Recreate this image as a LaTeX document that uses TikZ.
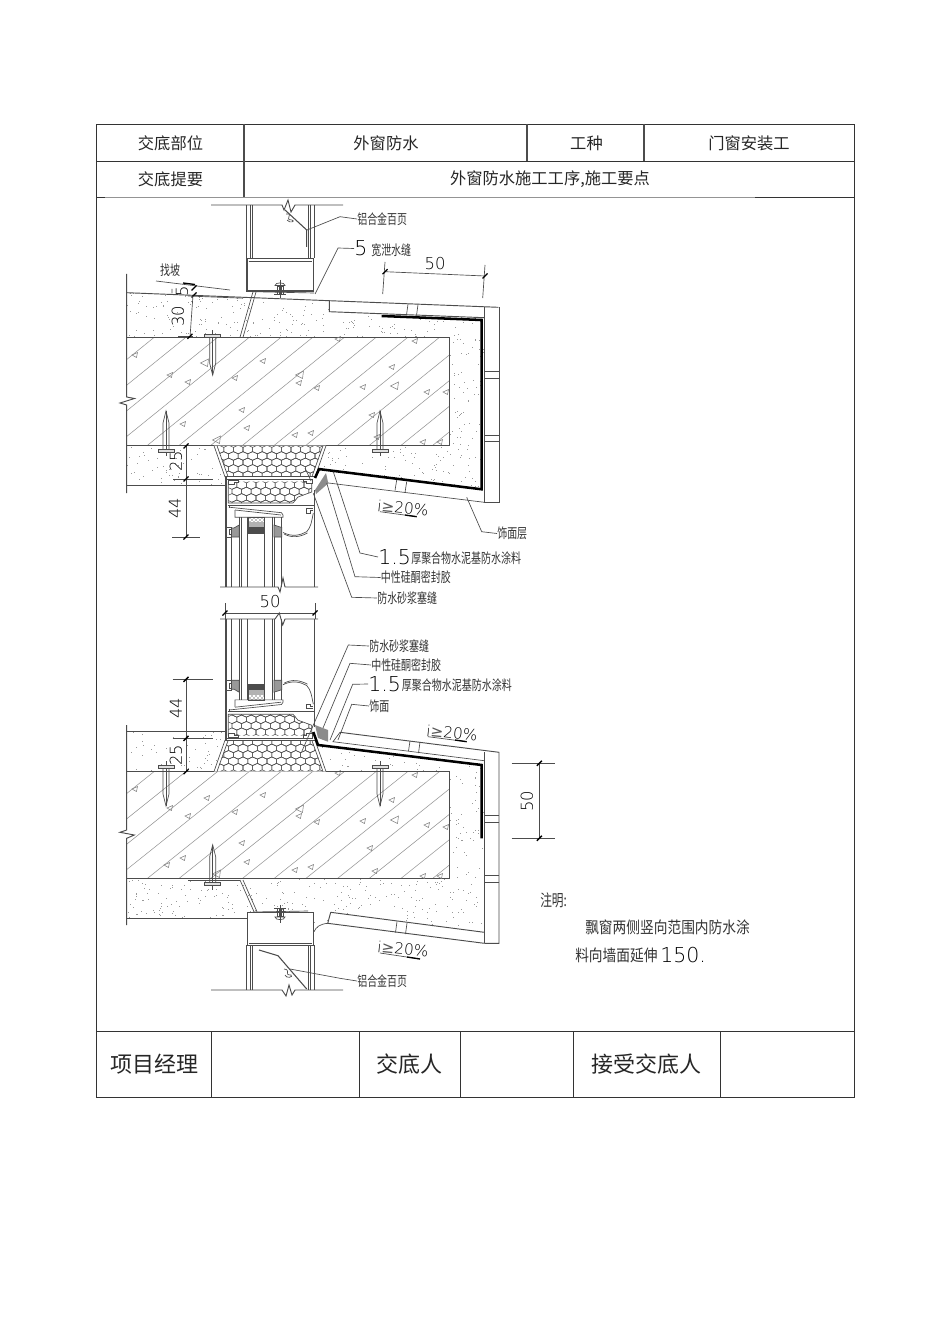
\documentclass[tikz,border=0pt]{standalone}
\usepackage{fontspec}
\usetikzlibrary{patterns}
\setmainfont{Liberation Sans}
\newfontfamily\tblf{Noto Sans CJK SC}
\newfontfamily\cadf[FakeStretch=0.72]{Noto Sans CJK SC}
\newfontfamily\notef[FakeStretch=0.85]{Noto Sans CJK SC}
\newfontfamily\numf[UprightFont={* ExtraLight}]{DejaVu Sans}
\newfontfamily\symf{DejaVu Sans}
\definecolor{ln}{gray}{0.3}
\definecolor{hl}{gray}{0.58}
\newcommand\fs[1]{\fontsize{#1}{#1}\selectfont}
\newcommand\slopetxt{i{\symf\color{black!65}≥}20\%}
\tikzset{
 ln/.style={draw=ln,line width=0.5pt},
 tl/.style={draw=ln,line width=0.7pt},
 tb/.style={draw=black!80,line width=0.7pt},
 thk/.style={draw=black,line width=1.9pt},
 lead/.style={draw=ln,line width=0.5pt},
 cell/.style={inner sep=0pt,font=\tblf\fs{12.2},text=black!85},
 bigcell/.style={inner sep=0pt,font=\tblf\fs{16.5},text=black!85},
 cad/.style={inner sep=0pt,anchor=west,font=\cadf\fs{10.4},text=black!80},
 notet/.style={inner sep=0pt,anchor=west,font=\notef\fs{12.1},text=black!80},
 dimt/.style={inner sep=0pt,font=\numf\fs{12.3},text=black},
 bigd/.style={inner sep=0pt,anchor=west,font=\numf\fs{15.4},text=black},
 slopet/.style={inner sep=0pt,font=\numf\fs{11.5},text=black,rotate=-6},
}
\newcommand\dtick[2]{\draw[draw=black,line width=1pt] (#1-2.5,#2+2.5) -- (#1+2.5,#2-2.5);}
\newcommand\honey[5]{\begin{scope}
  \clip #1;
  \foreach \r in {0,...,#5}{\foreach \c in {0,...,#4}{
    \pgfmathsetmacro\hx{#2+\c*9.6+mod(\r,2)*4.8}
    \pgfmathsetmacro\hy{#3+\r*6.45}
    \draw[draw=ln,line width=0.4pt] (\hx,\hy-4.3) -- (\hx+4.8,\hy-2.15) -- (\hx+4.8,\hy+2.15) -- (\hx,\hy+4.3) -- (\hx-4.8,\hy+2.15) -- (\hx-4.8,\hy-2.15) -- cycle;
  }}
 \end{scope}}
\newcommand\plaster[7]{\begin{scope}
  \clip #1;
  \pgfmathsetseed{#7}
  \foreach \i in {1,...,#2}{
    \pgfmathsetmacro\dx{#3+rnd*(#5-#3)}
    \pgfmathsetmacro\dy{#4+rnd*(#6-#4)}
    \fill[black!40] (\dx,\dy) rectangle +(0.8,0.8);
  }
 \end{scope}}
\newcommand\nail[3]{\begin{scope}[shift={(#1,#2)},yscale=#3]
  \draw[ln] (-3,0) -- (-3,26) -- (0,38) -- (3,26) -- (3,0);
  \draw[ln] (0,-7) -- (0,38);
  \draw[draw=ln,line width=0.4pt,fill=black!12] (-8,-3) rectangle (8,0);
 \end{scope}}
\newcommand\bolt[3]{\begin{scope}[shift={(#1,#2)},yscale=#3]
  \draw[ln] (0,-9) -- (0,9);
  \draw[ln] (-5,-3.5) .. controls (-5,-7) and (5,-7) .. (5,-3.5) -- cycle;
  \draw[ln] (-3,-3) rectangle (3,5);
  \draw[ln] (-1,-3) -- (-1,5) (1,-3) -- (1,5);
  \draw[ln] (-6,5) -- (6,5);
 \end{scope}}
\newcommand\concrete[2]{
  \fill[white] (126.7,#1) rectangle (449.3,#2);
  \begin{scope}
   \clip (126.7,#1) rectangle (449.3,#2);
   \foreach \k in {-4,...,11}{
     \draw[draw=hl,line width=0.4pt] (147+\k*31.7,#2) -- (147+\k*31.7+134,#1);
   }
  \end{scope}
  \draw[tl] (126.7,#1) -- (449.3,#1) -- (449.3,#2) -- (126.7,#2);
}
\newcommand\tri[2]{\draw[draw=black!50,line width=0.4pt] (#1-3,#2) -- (#1+2.5,#2-2.5) -- (#1+1.5,#2+2.5) -- cycle;}
\newcommand\trib[2]{\draw[draw=black!50,line width=0.4pt] (#1-4.5,#2) -- (#1+3.5,#2-4) -- (#1+2.5,#2+3.5) -- cycle;}
\newcommand\windowpart[1]{
  \fill[white] (214,445.7) -- (225,477) -- (225,#1) -- (314.3,#1) -- (314.3,490) -- (315,477) -- (326,445.7) -- cycle;
  \honey{(217,446) -- (228,476) -- (312,476) -- (323,446) -- cycle}{219}{449.5}{11}{4}
  \draw[ln] (214,445.7) -- (225,477) (217,445.7) -- (228,476.5);
  \draw[ln] (326,445.7) -- (315,477) (323,445.7) -- (312,476.5);
  \draw[tl] (225,476.6) -- (315,476.6);
  \draw[ln] (226.7,479) -- (313,479);
  \honey{(228.3,481.7) -- (311.7,481.7) -- (311.7,492) -- (298,497) -- (293,503) -- (228.3,503) -- cycle}{232}{485}{9}{3}
  \draw[ln] (228.3,481.7) -- (228.3,503) -- (293,503) -- (298,497) -- (311.7,492) -- (311.7,481.7);
  \draw[ln,fill=white] (228.5,480) -- (238,480) -- (238,482) -- (234,482) -- (234,484) -- (228.5,484) -- cycle;
  \draw[ln,fill=white] (303,479) -- (312,479) -- (312,483.5) -- (306,483.5) -- (306,481.5) -- (303,481.5) -- cycle;
  \draw[ln] (225,477) -- (225,#1) (226.8,477) -- (226.8,#1);
  \draw[ln] (314.3,490) -- (314.3,#1);
  \draw[tl] (228.3,505.5) -- (313.5,505.5);
  \draw[ln] (229,507.2) -- (281.5,512.7) -- (283,515) -- (283,517.3) -- (235,517.3) -- (235,510) ;
  \draw[ln] (235,510) -- (281,515);
  \draw[ln] (229,505.5) -- (229,508);
  \draw[ln] (306,508.5) -- (306,513) -- (310,513) -- (310,510.5) -- (313.3,510.5);
  \draw[ln] (306,508.5) -- (313.3,508.5);
  \draw[ln] (283,532.5) .. controls (292,537) and (300,535.5) .. (306.7,531.7) .. controls (311,527) and (311.5,522) .. (313.3,513);
  \draw[ln] (284,534) .. controls (292,538.3) and (300,537) .. (307.5,533);
  \foreach \vx in {239.2,241.6,247,264,272,274,281.7}{\draw[ln] (\vx,517.3) -- (\vx,#1);}
  \draw[ln] (231.5,537) -- (231.5,#1);
  \draw[ln,fill=black!40] (234,528) -- (239.2,525) -- (239.2,537) -- (231.5,537) -- (231.5,528) -- cycle;
  \draw[ln,fill=white] (226.8,527) -- (231.5,527) -- (231.5,529) -- (229,529) -- (229,534) -- (231.5,534) -- (231.5,537) -- (226.8,537) -- cycle;
  \draw[ln,fill=black!40] (274,525) -- (281.7,527.5) -- (281.7,537) -- (274,537) -- cycle;
  \fill[pattern=crosshatch dots,pattern color=black] (248.3,517.3) rectangle (264,522);
  \fill[black!30] (248.3,522) rectangle (264,527);
  \fill[black!70] (248.3,527) rectangle (264,533.3);
  \draw[ln] (248.3,517.3) rectangle (264,533.3);
}
\begin{document}
\begin{tikzpicture}[x=0.75pt,y=-0.75pt]
\useasboundingbox (0,0) rectangle (950,1344);
\fill[white] (0,0) rectangle (950,1344);
%---- table
\draw[tb] (96.5,124) rectangle (854,1097);
\draw[tb] (96.5,161) -- (854,161);
\draw[draw=hl,line width=0.7pt] (96.5,197.3) -- (854,197.3);
\draw[tb] (96.5,197.3) -- (105,197.3) (755,197.3) -- (854,197.3);
\draw[tb] (96.5,1031) -- (854,1031);
\draw[draw=ln,line width=0.8pt] (244,124) -- (244,197.3);
\draw[draw=ln,line width=0.8pt] (527,124) -- (527,161) (644,124) -- (644,161);
\foreach \bx in {211,359,460,573,720}{\draw[tb] (\bx,1031) -- (\bx,1097);}
\node[cell] (c1) at (170.5,143) {交底部位};
\node[cell] (c2) at (386,143) {外窗防水};
\node[cell] (c3) at (586.5,143) {工种};
\node[cell] (c4) at (749,143) {门窗安装工};
\node[cell] (c5) at (170.5,179.5) {交底提要};
\node[cell] (c6) at (550,179.5) {外窗防水施工工序,施工要点};
\node[bigcell] (c7) at (154,1064) {项目经理};
\node[bigcell] (c8) at (409.5,1064) {交底人};
\node[bigcell] (c9) at (646.5,1064) {接受交底人};
%---- UPPER SECTION: plaster, concrete
\plaster{(126.7,292.7) -- (329.3,300.7) -- (329.3,311.7) -- (484.3,317.7) -- (484.3,490) -- (318,470) -- (326,446) -- (214,446) -- (225,477) -- (225,485) -- (126.7,485) -- cycle}{1100}{126.7}{292}{484.3}{490}{11}
\concrete{337.3}{445.7}
\foreach \a/\b in {135/355,170/375,188/382,235/378,263/361,299/383,317/388,338/339,363/387,392/367,427/392,446/392,415/341,183/424,242/410,372/415,247/428,295/435,311/433,377/437,423/442,440/442}{\tri{\a}{\b}}
\foreach \a/\b in {205/363,300/375,395/386,217/440}{\trib{\a}{\b}}
\windowpart{587}
% outer profile
\draw[tl] (126.7,274) -- (126.7,397) -- (134.5,398.5) -- (120,403) -- (126.7,405) -- (126.7,493);
\draw[tl] (126.7,485) -- (225,485);
\draw[tl] (126.7,292.7) -- (329.3,300.7) -- (498.3,307.3);
\draw[tl] (329.3,300.7) -- (329.3,311.7) -- (484.3,317.7);
\draw[tl] (484.3,306.7) -- (484.3,502.3) (499,307.3) -- (499,502.3) -- (484.3,502.3);
\draw[ln] (484.3,371) -- (499,371) (484.3,378) -- (499,378) (484.3,435) -- (499,435) (484.3,441.7) -- (499,441.7);
\draw[ln] (408,304) -- (406.5,315) (418,304.5) -- (416.5,315.5);
\draw[ln] (326,482.7) -- (484.3,502.3);
\draw[ln] (396.7,480) -- (395,490.5) (406.7,481.7) -- (405,492.5);
\draw[thk] (381.7,316) -- (481.7,320) -- (481.7,489.3) -- (318.3,469);
\draw[thk] (319.3,468.5) -- (315,478);
\fill[black!45] (315,490) -- (326,473) -- (328.3,483.3) -- (316,494) -- cycle;
\draw[ln] (305,468) -- (311,481);
% top head box
\draw[tl] (211,205) -- (282,205) -- (284,210) -- (288,200) -- (291,212) -- (295,205) -- (343,205);
\foreach \vx in {246.7,250,252.3,308.3,310.7,314.3}{\draw[ln] (\vx,205) -- (\vx,258);}
\draw[tl,line width=0.9pt] (247,258.5) rectangle (313.5,291);
\draw[ln] (248.5,261) -- (312,261);
\draw[ln] (253,291.7) -- (314,293);
\draw[ln] (253,291.7) -- (240,337.3) (256,292) -- (243,337.3);
\draw[tl] (188,337.3) -- (243,337.3);
\bolt{280}{289}{1}
\draw[ln,line width=0.8pt] (285,210) -- (306.7,230) -- (306.7,247);
\draw[ln] (286,214) .. controls (295,213) and (283,220) .. (292,220) .. controls (296,221) and (290,224) .. (287,220);
\node[cad] (l1) at (357,219) {铝合金百页};
\draw[lead] (307,230) -- (340,216.7) -- (l1.west);
\node[bigd] (l2n) at (354,248.5) {5};
\node[cad] (l2) at (371,250.5) {宽泄水缝};
\draw[lead] (315,294) -- (338,248) -- (l2n.west);
% dims top
\draw[ln] (385,262) -- (382.7,294) (485,265) -- (482.7,298);
\draw[ln] (385,271.7) -- (485,276);
\dtick{385}{271.7}\dtick{485}{276}
\node[dimt] (d50a) at (435,263.5) {50};
\draw[ln] (156,281) -- (230,290);
\draw[draw=black,line width=1pt] (183,283) -- (195,284.5);
\node[cad,anchor=center] (lzp) at (170,270) {找坡};
\draw[ln] (172,293.5) -- (172,289) (193,295) -- (190,337.3);
\draw[ln] (178,336.3) -- (193,336.3);
\dtick{194}{288}\dtick{194}{295}\dtick{190}{336.3}
\draw[ln] (188,296) -- (243,298.2);
\node[dimt,rotate=90] (d5) at (182,291.5) {5};
\node[dimt,rotate=90] (d30) at (178,316) {30};
\nail{212.7}{337.3}{1}
\nail{166}{449}{-1}
\nail{380}{449}{-1}
\draw[tl] (141.7,445.7) -- (214,445.7) (326,445.7) -- (398,445.7);
% lower dims of the upper window
\draw[ln] (186,446) -- (186,537);
\draw[ln] (173,479) -- (213,479) (172,537) -- (200,537);
\dtick{186}{446}\dtick{186}{479}\dtick{186}{537}
\node[dimt,rotate=90] (d25a) at (176,461) {25};
\node[dimt,rotate=90] (d44a) at (175,508) {44};
% break line and 50
\draw[tl] (220,587) -- (278,587) -- (280,592) -- (283,578) -- (285,587) -- (318,587);
\draw[ln] (225,603) -- (225,619) (315,603) -- (315,619);
\draw[ln] (225,613) -- (315,613);
\dtick{225}{613}\dtick{315}{613}
\node[dimt] (d50b) at (270,602) {50};
% labels upper
\node[slopet] (s1) at (403,508) {\slopetxt};
\draw[ln] (380,511.7) -- (416.7,516.7);
\draw[draw=black,line width=1pt] (405,515) -- (416.7,516.7);
\node[cad] (l3) at (497,533.5) {饰面层};
\draw[lead] (466.7,497.3) -- (481.7,531.7) -- (l3.west);
\node[bigd] (l4n) at (378,557) {1.5};
\node[cad] (l4) at (411,558.5) {厚聚合物水泥基防水涂料};
\draw[lead] (333.3,471.7) -- (360,553) -- (l4n.west);
\node[cad] (l5) at (380.7,577.5) {中性硅酮密封胶};
\draw[lead] (326.7,483) -- (355,576.7) -- (l5.west);
\node[cad] (l6) at (377,598) {防水砂浆塞缝};
\draw[lead] (313.3,493.3) -- (351.7,597.3) -- (l6.west);
%---- LOWER SECTION
\plaster{(126.7,731) -- (225,731) -- (225,740) -- (214,771) -- (326,771) -- (316,745) -- (484.3,765) -- (484.3,932.3) -- (330.7,912.3) -- (327.7,923.3) -- (314,931) -- (314,912) -- (247,912) -- (247,918.3) -- (126.7,918.3) -- cycle}{1100}{126.7}{731}{484.3}{935}{23}
\concrete{771.5}{878.7}
\foreach \a/\b in {135/789,207/798,263/795,235/812,338/773,392/800,415/775,170/808,188/816,299/816,317/822,363/821,427/825,446/827,167/865,183/858,242/843,247/862,295/870,311/867,370/848,375/871,423/876,440/876}{\tri{\a}{\b}}
\foreach \a/\b in {300/809,395/820,217/874}{\trib{\a}{\b}}
\begin{scope}[shift={(0,1217.2)},yscale=-1]
 \windowpart{598.2}
\end{scope}
\draw[tl] (126.7,725) -- (126.7,830) -- (120,832.3) -- (134.3,835) -- (126.7,838.3) -- (126.7,925);
\draw[tl] (126.7,731) -- (225,731);
\draw[tl] (126.7,918.3) -- (247,918.3);
\draw[tl] (220,619) -- (275,619) -- (279.3,613) -- (282.7,625) -- (285,619) -- (318,619);
\draw[tl] (340,732.3) -- (499,752.3) -- (499,943.3) -- (484.3,943.3);
\draw[tl] (484.3,752) -- (484.3,943.3);
\draw[ln] (340,732.3) -- (333,741.7) -- (484.3,760.7);
\draw[ln] (410,741) -- (408.5,751) (420,742) -- (418.5,753);
\draw[ln] (484.3,815.7) -- (499,815.7) (484.3,822.3) -- (499,822.3) (484.3,875.7) -- (499,875.7) (484.3,882.3) -- (499,882.3);
\draw[thk] (313.3,732) -- (318,745) -- (481.7,765) -- (481.7,838.3);
\fill[black!45] (315,725) -- (328,730) -- (328,741.7) -- (318,738) -- cycle;
% bottom head box
\draw[tl] (211,990) -- (282,990) -- (286,996) -- (289,985) -- (292,995) -- (295,990) -- (343,990);
\foreach \vx in {246.7,250,252.3,308.3,310.7,314.3}{\draw[ln] (\vx,945) -- (\vx,990);}
\draw[tl,line width=0.9pt] (247.3,912.7) rectangle (313.3,945.3);
\draw[ln] (249,943) -- (312,943);
\draw[ln] (253,912) -- (308,911);
\draw[ln] (254,911.7) -- (240,880) (257,911.7) -- (243,880);
\draw[tl] (188,880) -- (240,880);
\bolt{280}{913.5}{-1}
\draw[ln,line width=0.8pt] (259,950) -- (278,955.7) -- (306.7,989);
\draw[ln] (284,969) .. controls (292,970) and (283,975) .. (291,975) .. controls (294,977) and (286,979) .. (285,975);
\node[cad] (l7) at (357,981) {铝合金百页};
\draw[lead] (290,969) -- (340,978.3) -- (l7.west);
\nail{212.7}{882.7}{-1}
\nail{166}{768}{1}
\nail{380}{768}{1}
\draw[tl] (141.7,771.5) -- (214,771.5) (326,771.5) -- (398,771.5);
% drip plate bottom
\draw[tl] (330.7,912.3) -- (484.3,932.3);
\draw[tl] (330.7,912.3) -- (327.7,923.3) -- (484.3,943.3);
\draw[ln] (327.7,923.3) .. controls (320,924) and (316,927) .. (314,931.7);
\draw[ln] (397,921.5) -- (395.5,932.5) (407,923) -- (405.5,934);
\node[slopet] (s2) at (403,949) {\slopetxt};
\draw[ln] (380,953) -- (420,959);
\draw[draw=black,line width=1pt] (407,957) -- (420,959);
\node[slopet] (s3) at (452,733) {\slopetxt};
\draw[ln] (428,736.7) -- (466.7,741.7);
\draw[draw=black,line width=1pt] (455,740) -- (466.7,741.7);
% dims lower
\draw[ln] (186,679.3) -- (186,771.7);
\draw[ln] (172.7,679.3) -- (213,679.3) (172.7,738.3) -- (213,738.3);
\dtick{186}{679.3}\dtick{186}{738.3}\dtick{186}{771.7}
\node[dimt,rotate=90] (d44b) at (176,708) {44};
\node[dimt,rotate=90] (d25b) at (176,755) {25};
\draw[ln] (511.7,763.3) -- (555,763.3) (511.7,838.3) -- (555,838.3);
\draw[ln] (539.3,763.3) -- (539.3,838.3);
\dtick{539.3}{763.3}\dtick{539.3}{838.3}
\node[dimt,rotate=90] (d50c) at (527,801) {50};
% labels lower
\node[cad] (m1) at (369,646) {防水砂浆塞缝};
\draw[lead] (301.7,751.7) -- (348.3,645) -- (m1.west);
\node[cad] (m2) at (371,665) {中性硅酮密封胶};
\draw[lead] (323,728) -- (350,663.3) -- (m2.west);
\node[bigd] (m3n) at (368,684) {1.5};
\node[cad] (m3) at (401.7,685.5) {厚聚合物水泥基防水涂料};
\draw[lead] (330,740) -- (352.7,684.3) -- (m3n.west);
\node[cad] (m4) at (369,706) {饰面};
\draw[lead] (338,740) -- (351.7,704.3) -- (m4.west);
% note
\node[notet,font=\cadf\fs{12.2}] (n1) at (540,900) {注明:};
\node[notet] (n2) at (585,927) {飘窗两侧竖向范围内防水涂};
\node[notet] (n3) at (575,955.5) {料向墙面延伸};
\node[bigd] (n4) at (660,955) {150.};
\end{tikzpicture}
\end{document}
